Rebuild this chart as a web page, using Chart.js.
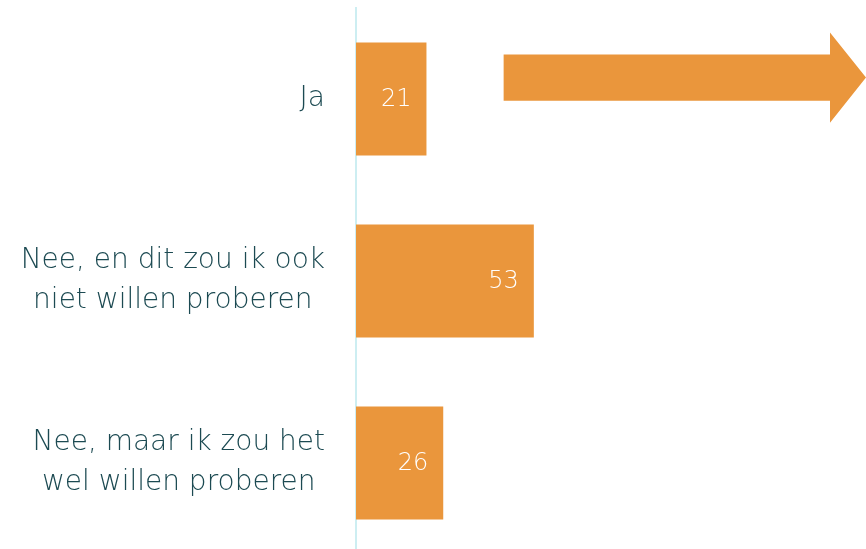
<!DOCTYPE html>
<html>
<head>
<meta charset="utf-8">
<script src="https://cdn.jsdelivr.net/npm/chart.js@4.4.1/dist/chart.umd.min.js"></script>
<style>
  html, body { margin: 0; padding: 0; background: #fff; overflow: hidden; }
  #wrap { width: 866px; height: 554px; position: relative; }
</style>
</head>
<body>
<div id="wrap"><canvas id="barChart"></canvas></div>
<script>
const categories = [
  'Ja',
  ['Nee, en dit zou ik ook', 'niet willen proberen'],
  ['Nee, maar ik zou het', 'wel willen proberen']
];
const values = [21, 53, 26];
const axisMax = 152;
// decorative arrow next to "Ja", from this value to the right edge
const arrowFrom = 44;

const ORANGE = '#ea963c';
const TEXT = '#1c4a52';
const FONT = '"DejaVu Sans", "Open Sans", sans-serif';

// category labels: each label block sits right of the axis gap, its lines centred
const categoryLabels = {
  id: 'categoryLabels',
  afterDraw(chart) {
    const ctx = chart.ctx;
    const y = chart.scales.y;
    const right = chart.chartArea.left - 31;
    const lineH = 40;
    ctx.save();
    ctx.fillStyle = TEXT;
    ctx.font = '200 28px ' + FONT;
    ctx.textAlign = 'center';
    ctx.textBaseline = 'middle';
    categories.forEach((label, i) => {
      const lines = Array.isArray(label) ? label : [label];
      const w = Math.max(...lines.map(l => ctx.measureText(l).width));
      const cx = right - w / 2;
      const cy = y.getPixelForTick(i);
      lines.forEach((l, j) => {
        ctx.fillText(l, cx, cy + (j - (lines.length - 1) / 2) * lineH);
      });
    });
    ctx.restore();
  }
};

const barLabels = {
  id: 'barLabels',
  afterDatasetsDraw(chart) {
    const ctx = chart.ctx;
    ctx.save();
    ctx.fillStyle = '#ffffff';
    ctx.font = '200 24px ' + FONT;
    ctx.textAlign = 'right';
    ctx.textBaseline = 'middle';
    chart.getDatasetMeta(0).data.forEach((bar, i) => {
      ctx.fillText(values[i], bar.x - 15, bar.y + 1);
    });
    ctx.restore();
  }
};

const arrow = {
  id: 'arrow',
  afterDatasetsDraw(chart) {
    const ctx = chart.ctx;
    const x = chart.scales.x, y = chart.scales.y;
    const bar = chart.getDatasetMeta(0).data[0];
    const h = bar.height;
    const cy = y.getPixelForValue(0) - h * 0.19;
    const x0 = x.getPixelForValue(arrowFrom);
    const x2 = chart.chartArea.right;
    const x1 = x2 - 36;
    const shaft = h * 0.205, head = h * 0.4;
    ctx.save();
    ctx.fillStyle = ORANGE;
    ctx.beginPath();
    ctx.moveTo(x0, cy - shaft);
    ctx.lineTo(x1, cy - shaft);
    ctx.lineTo(x1, cy - head);
    ctx.lineTo(x2, cy);
    ctx.lineTo(x1, cy + head);
    ctx.lineTo(x1, cy + shaft);
    ctx.lineTo(x0, cy + shaft);
    ctx.closePath();
    ctx.fill();
    ctx.restore();
  }
};

new Chart(document.getElementById('barChart'), {
  type: 'bar',
  data: {
    labels: categories,
    datasets: [{
      data: values,
      backgroundColor: ORANGE,
      borderWidth: 0,
      categoryPercentage: 1,
      barPercentage: 0.62
    }]
  },
  options: {
    indexAxis: 'y',
    responsive: true,
    maintainAspectRatio: false,
    animation: false,
    layout: { padding: { top: 8, bottom: 0, left: 0, right: 0 } },
    plugins: { legend: { display: false }, tooltip: { enabled: false } },
    scales: {
      x: {
        display: false,
        min: 0,
        max: axisMax
      },
      y: {
        afterFit(scale) {
          scale.width = 356;
          scale.paddingTop = 0;
          scale.paddingBottom = 0;
        },
        grid: { display: false },
        border: { display: true, color: '#cdeef2', width: 2 },
        ticks: { display: false }
      }
    }
  },
  plugins: [barLabels, arrow, categoryLabels]
});
</script>
</body>
</html>
